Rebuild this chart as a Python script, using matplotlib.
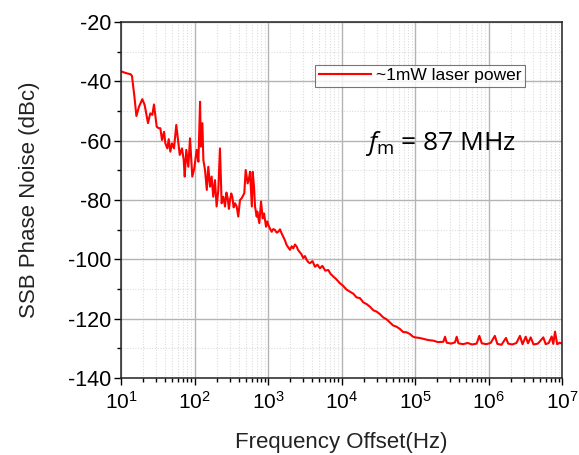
import matplotlib
matplotlib.use("Agg")
import matplotlib.pyplot as plt
from matplotlib.ticker import LogLocator, MultipleLocator, NullFormatter

# ===========================
# DATA
# ===========================

freq_low = [10.2, 11.0, 12.0, 13.5, 14.1, 15.2, 16.2, 17.6, 19.5, 21.0,
            23.3, 25.0, 26.7, 28.1, 30.6, 32.6, 34.3, 36.1, 38.5, 40.1,
            42.7, 44.6, 46.9, 49.4, 52.6, 56.5, 59.7, 63.0, 67.6, 71.3,
            73.6, 77.3, 82.4, 86.9, 93.3, 99.3]
pn_low = [-36.7, -37.0, -37.3, -37.6, -38.2, -45.0, -51.7, -48.5, -46.0, -48.0,
          -54.1, -50.8, -51.3, -47.8, -55.3, -55.8, -55.8, -59.8, -57.0, -60.9,
          -62.6, -59.5, -63.7, -60.9, -62.6, -54.7, -59.8, -64.8, -62.6, -66.5,
          -72.1, -63.1, -68.8, -59.2, -72.1, -69.3]

freq_mid = [107, 113, 119, 122, 128, 132, 139, 147, 154, 163,
            171, 180, 190, 200, 211, 222, 234, 247, 260, 272,
            283, 294, 304, 316, 327, 341, 356, 375, 394, 416,
            439, 476, 497, 529, 557, 569, 587, 603, 619, 645,
            666, 702, 715, 762, 804, 847, 883, 940, 975]
pn_mid = [-63.1, -67.1, -46.9, -62.0, -54.1, -66.5, -69.9, -76.6, -68.8, -75.5,
          -72.1, -78.9, -73.3, -82.2, -76.6, -62.6, -81.1, -78.9, -82.2, -77.5,
          -79.4, -83.0, -80.0, -77.8, -78.9, -82.5, -81.1, -82.2, -85.6, -80.0,
          -79.4, -77.7, -69.9, -74.4, -72.1, -70.5, -76.6, -82.2, -70.5, -75.5,
          -82.2, -85.6, -83.9, -87.8, -80.5, -86.2, -84.5, -89.0, -87.2]

freq_slope = [1010, 1060, 1122, 1180, 1245, 1310, 1380, 1455, 1530, 1614,
              1700, 1795, 1890, 1990, 2100, 2208, 2330, 2455, 2560, 2665,
              2840, 3020, 3180, 3363, 3540, 3726, 4030, 4355, 4700, 5093,
              5500, 6000, 6607, 7100, 7727, 8500, 9543, 10500, 11700, 13060,
              14500, 16000, 17870, 19800, 22000, 24440, 27200, 30000, 33420,
              37000, 41000, 45710, 50500, 56000, 62520, 69000, 77000, 85510,
              93000, 100000]
pn_slope = [-88.4, -89.6, -90.7, -89.8, -90.1, -91.0, -90.7, -89.9, -91.2, -92.4,
            -93.6, -95.2, -96.0, -96.8, -95.6, -96.3, -95.0, -95.7, -96.8, -97.4,
            -98.2, -99.6, -98.9, -100.2, -101.0, -101.3, -100.6, -102.5, -101.8, -103.0,
            -102.2, -103.8, -103.6, -104.9, -105.8, -106.7, -108.1, -108.9, -110.2, -110.9,
            -111.6, -112.8, -113.1, -114.5, -115.1, -116.0, -117.2, -117.6, -118.5,
            -119.6, -120.2, -121.3, -122.3, -122.7, -123.5, -124.5, -124.6, -125.2,
            -126.0, -126.3]

freq_floor = [1.15e5, 1.30e5, 1.50e5, 1.77e5, 2.05e5, 2.43e5, 2.56e5, 2.70e5, 3.10e5,
              3.50e5, 3.69e5, 3.90e5, 4.50e5, 5.20e5, 6.00e5, 6.90e5, 7.50e5, 8.10e5,
              9.30e5, 1.07e6, 1.22e6, 1.32e6, 1.50e6, 1.73e6, 1.85e6, 2.10e6, 2.40e6,
              2.68e6, 2.90e6, 3.21e6, 3.45e6, 3.75e6, 4.10e6, 4.70e6, 5.57e6, 6.00e6,
              6.60e6, 7.24e6, 7.60e6, 8.04e6, 8.60e6, 9.30e6, 1.0e7]
pn_floor = [-126.5, -126.8, -127.2, -127.4, -127.9, -127.8, -126.1, -128.1, -128.4,
            -128.0, -126.1, -128.3, -128.6, -128.2, -128.7, -128.4, -125.8, -128.3,
            -128.6, -128.2, -125.8, -128.5, -128.8, -126.5, -128.4, -128.7, -128.2,
            -125.8, -128.6, -126.1, -128.3, -126.3, -128.7, -128.4, -126.3, -128.6,
            -128.2, -126.0, -128.5, -124.4, -128.6, -128.1, -128.4]

freq = freq_low + freq_mid + freq_slope + freq_floor
phase_noise = pn_low + pn_mid + pn_slope + pn_floor

# ===========================
# FIGURE
# ===========================

plt.rcParams["font.family"] = ["Liberation Sans", "DejaVu Sans"]
plt.rcParams["axes.unicode_minus"] = False
plt.rcParams["mathtext.fontset"] = "custom"
plt.rcParams["mathtext.rm"] = "Open Sans"
plt.rcParams["mathtext.it"] = "Open Sans:italic"

fig = plt.figure(figsize=(5.79, 4.55), dpi=100)
ax = fig.add_axes([121 / 579, 77 / 455, 441 / 579, 356 / 455])

ax.plot(freq, phase_noise, color="#ff0000", lw=1.5, label="~1mW laser power")

ax.set_xscale("log")
ax.set_xlim(10, 1e7)
ax.set_ylim(-140, -20)

ax.yaxis.set_major_locator(MultipleLocator(20))
ax.yaxis.set_minor_locator(MultipleLocator(10))
ax.xaxis.set_major_locator(LogLocator(base=10, numticks=10))
ax.xaxis.set_minor_locator(LogLocator(base=10, subs=range(2, 10), numticks=20))
ax.xaxis.set_minor_formatter(NullFormatter())

ax.grid(which="major", color="#b4b4b4", lw=1.0, ls="-")
ax.grid(which="minor", color="#dcdcdc", lw=0.8, ls=(0, (1, 1.5)))
ax.set_axisbelow(True)

ax.tick_params(which="major", direction="out", length=5, width=1,
               top=False, right=False, colors="black")
ax.tick_params(axis="y", which="major", labelsize=15.5, pad=2)
ax.tick_params(axis="x", which="major", labelsize=15, pad=4)
ax.tick_params(which="minor", direction="out", length=3, width=1,
               top=False, right=False)
for s in ax.spines.values():
    s.set_linewidth(1.1)
    s.set_color("#222222")

ax.set_xlabel("Frequency Offset(Hz)", fontsize=16, color="#222222", labelpad=14)
ax.set_ylabel("SSB Phase Noise (dBc)", fontsize=16, color="#222222", labelpad=20)

leg = ax.legend(loc="upper left", bbox_to_anchor=(0.44, 0.88), fontsize=12.5,
                frameon=True, fancybox=False, edgecolor="#555555",
                handlelength=3.0, borderpad=0.2, handletextpad=0.3,
                borderaxespad=0)
leg.get_frame().set_linewidth(0.8)

ax.text(0.553, 0.64, r"$f_{\mathrm{m}}$ = 87 MHz", transform=ax.transAxes,
        fontsize=19, family="Open Sans", color="black")

fig.savefig("out.png", dpi=100)
